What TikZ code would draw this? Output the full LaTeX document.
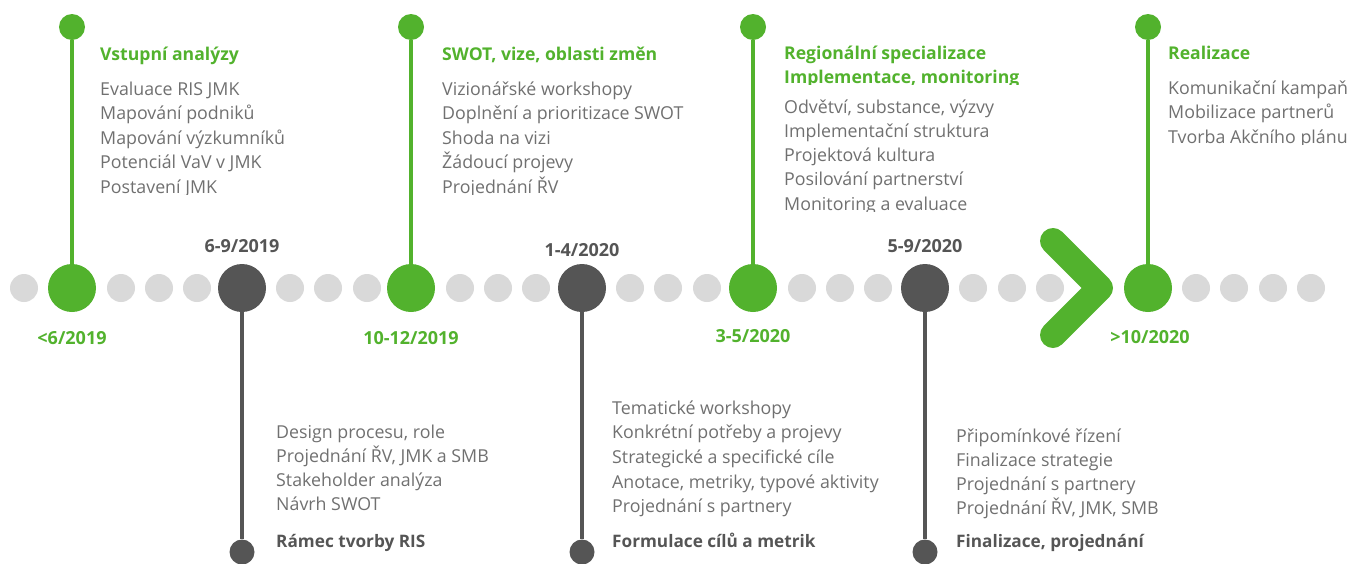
\documentclass[tikz,border=0pt]{standalone}
\usepackage{fontspec}
\setmainfont{Open Sans}
\definecolor{brandgreen}{RGB}{82,178,45}
\definecolor{markdark}{RGB}{85,85,85}
\definecolor{dotgray}{RGB}{217,217,217}
\definecolor{textgray}{RGB}{112,112,112}
\tikzset{
  dot/.style={circle, fill=dotgray, minimum size=28pt, inner sep=0pt},
  bigmark/.style={circle, minimum size=48pt, inner sep=0pt},
  pinmark/.style={circle, inner sep=0pt},
  stem/.style={line width=4.6pt},
  bodytext/.style={font=\fontsize{17.8}{20}\selectfont, text=textgray, anchor=base west, inner sep=0pt},
  headtext/.style={font=\fontsize{17.6}{20}\selectfont\bfseries, text=brandgreen, anchor=base west, inner sep=0pt},
  phasetext/.style={font=\fontsize{17.2}{20}\selectfont\bfseries, text=markdark, anchor=base west, inner sep=0pt},
  datetext/.style={font=\fontsize{18}{20}\selectfont\bfseries, anchor=base, inner sep=0pt},
}
\begin{document}
\begin{tikzpicture}[x=1pt, y=-1pt]
\useasboundingbox (0,0) rectangle (1349,563);

% background dots of the time axis
\foreach \x [count=\i] in {24,121,159,197,290,328,367,460,498,536,630,668,707,802,840,878,973,1012,1050,1196,1234,1273,1311}
  \node[dot] (d\i) at (\x,288) {};

% arrow chevron before the last milestone
\coordinate (chA) at (1053,241);
\coordinate (chB) at (1100,288);
\coordinate (chC) at (1053,335);
\draw[brandgreen, line width=26pt, line cap=round, line join=round] (chA) -- (chB) -- (chC);

% milestones above the axis (green)
\foreach \x/\n in {72/m1, 411/m3, 753/m5, 1148/m7} {
  \node[bigmark, fill=brandgreen] (\n) at (\x,288) {};
  \node[pinmark, fill=brandgreen, minimum size=26pt] (\n top) at (\x,27) {};
  \draw[stem, brandgreen] (\n top) -- (\n);
}

% milestones below the axis (dark)
\foreach \x/\n in {242/m2, 582/m4, 925/m6} {
  \node[bigmark, fill=markdark] (\n) at (\x,288) {};
  \node[pinmark, fill=markdark, minimum size=25pt] (\n bot) at (\x,552) {};
  \draw[stem, markdark] (\n) -- (\n bot);
}

% dates
\node[datetext, text=brandgreen] (t1) at (72,344) {<6/2019};
\node[datetext, text=markdark] (t2) at (242,252) {6-9/2019};
\node[datetext, text=brandgreen] (t3) at (411,344) {10-12/2019};
\node[datetext, text=markdark] (t4) at (582,256) {1-4/2020};
\node[datetext, text=brandgreen] (t5) at (753,342) {3-5/2020};
\node[datetext, text=markdark] (t6) at (925,252) {5-9/2020};
\node[datetext, text=brandgreen] (t7) at (1150,343) {>10/2020};

% column 1
\node[headtext] (h1) at (100,60) {Vstupní analýzy};
\begin{scope}
  \clip (90,70) rectangle (400,194);
  \foreach \t [count=\i from 0] in {Evaluace RIS JMK, Mapování podniků, Mapování výzkumníků, Potenciál VaV v JMK, Postavení JMK}
    \node[bodytext] (a\i) at (100,95+24.5*\i) {\t};
\end{scope}

% column 3
\node[headtext] (h3) at (442,60) {SWOT, vize, oblasti změn};
\begin{scope}
  \clip (432,70) rectangle (740,194);
  \foreach \t [count=\i from 0] in {Vizionářské workshopy, Doplnění a prioritizace SWOT, Shoda na vizi, Žádoucí projevy, Projednání ŘV}
    \node[bodytext] (c\i) at (442,95+24.5*\i) {\t};
\end{scope}

% column 5
\node[headtext] (h5a) at (784,59) {Regionální specializace};
\begin{scope}
  \clip (774,65) rectangle (1100,84);
  \node[headtext] (h5b) at (784,83) {Implementace, monitoring};
\end{scope}
\begin{scope}
  \clip (774,90) rectangle (1100,211);
  \foreach \t [count=\i from 0] in {{Odvětví, substance, výzvy}, Implementační struktura, Projektová kultura, Posilování partnerství, Monitoring a evaluace}
    \node[bodytext] (e\i) at (784,113+24.3*\i) {\t};
\end{scope}

% column 7
\node[headtext] (h7) at (1168,59) {Realizace};
\begin{scope}
  \clip (1158,70) rectangle (1349,144);
  \foreach \t [count=\i from 0] in {Komunikační kampaň, Mobilizace partnerů, Tvorba Akčního plánu}
    \node[bodytext] (g\i) at (1168,94+24.5*\i) {\t};
\end{scope}

% column 2
\foreach \t [count=\i from 0] in {{Design procesu, role}, {Projednání ŘV, JMK a SMB}, Stakeholder analýza, Návrh SWOT}
  \node[bodytext] (b\i) at (276,438+24.2*\i) {\t};
\node[phasetext] (p2) at (276,547) {Rámec tvorby RIS};

% column 4
\foreach \t [count=\i from 0] in {Tematické workshopy, Konkrétní potřeby a projevy, Strategické a specifické cíle, {Anotace, metriky, typové aktivity}, Projednání s partnery}
  \node[bodytext] (f\i) at (612,414+24.7*\i) {\t};
\node[phasetext] (p4) at (612,547) {Formulace cílů a metrik};

% column 6
\foreach \t [count=\i from 0] in {Připomínkové řízení, Finalizace strategie, Projednání s partnery, {Projednání ŘV, JMK, SMB}}
  \node[bodytext] (k\i) at (956,442+24.3*\i) {\t};
\node[phasetext] (p6) at (956,547) {Finalizace, projednání};

\end{tikzpicture}
\end{document}
